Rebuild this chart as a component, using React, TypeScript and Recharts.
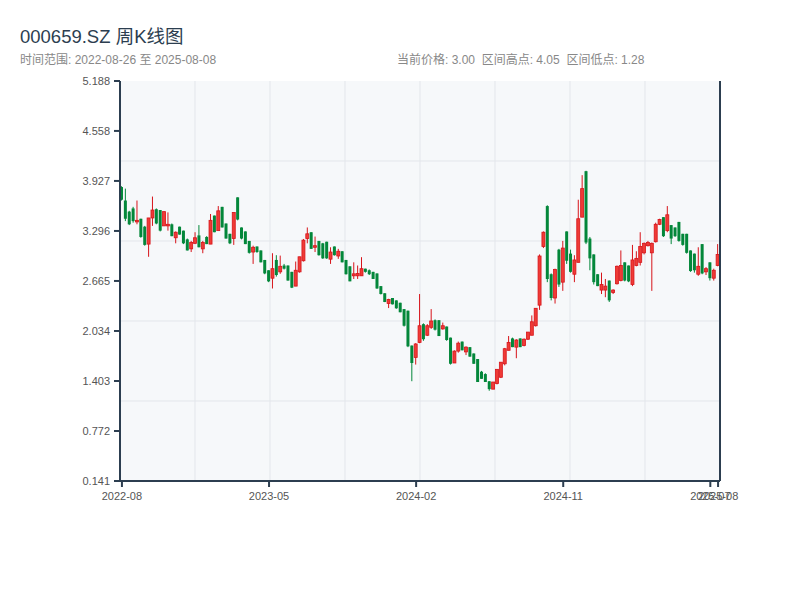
import { ComposedChart, Bar, XAxis, YAxis, CartesianGrid } from "recharts";

const dates = [
  "2022-08-26", "2022-09-02", "2022-09-09", "2022-09-16", "2022-09-23", "2022-09-30", "2022-10-07", "2022-10-14",
  "2022-10-21", "2022-10-28", "2022-11-04", "2022-11-11", "2022-11-18", "2022-11-25", "2022-12-02", "2022-12-09",
  "2022-12-16", "2022-12-23", "2022-12-30", "2023-01-06", "2023-01-13", "2023-01-20", "2023-01-27", "2023-02-03",
  "2023-02-10", "2023-02-17", "2023-02-24", "2023-03-03", "2023-03-10", "2023-03-17", "2023-03-24", "2023-03-31",
  "2023-04-07", "2023-04-14", "2023-04-21", "2023-04-28", "2023-05-05", "2023-05-12", "2023-05-19", "2023-05-26",
  "2023-06-02", "2023-06-09", "2023-06-16", "2023-06-23", "2023-06-30", "2023-07-07", "2023-07-14", "2023-07-21",
  "2023-07-28", "2023-08-04", "2023-08-11", "2023-08-18", "2023-08-25", "2023-09-01", "2023-09-08", "2023-09-15",
  "2023-09-22", "2023-09-29", "2023-10-06", "2023-10-13", "2023-10-20", "2023-10-27", "2023-11-03", "2023-11-10",
  "2023-11-17", "2023-11-24", "2023-12-01", "2023-12-08", "2023-12-15", "2023-12-22", "2023-12-29", "2024-01-05",
  "2024-01-12", "2024-01-19", "2024-01-26", "2024-02-02", "2024-02-09", "2024-02-16", "2024-02-23", "2024-03-01",
  "2024-03-08", "2024-03-15", "2024-03-22", "2024-03-29", "2024-04-05", "2024-04-12", "2024-04-19", "2024-04-26",
  "2024-05-03", "2024-05-10", "2024-05-17", "2024-05-24", "2024-05-31", "2024-06-07", "2024-06-14", "2024-06-21",
  "2024-06-28", "2024-07-05", "2024-07-12", "2024-07-19", "2024-07-26", "2024-08-02", "2024-08-09", "2024-08-16",
  "2024-08-23", "2024-08-30", "2024-09-06", "2024-09-13", "2024-09-20", "2024-09-27", "2024-10-04", "2024-10-11",
  "2024-10-18", "2024-10-25", "2024-11-01", "2024-11-08", "2024-11-15", "2024-11-22", "2024-11-29", "2024-12-06",
  "2024-12-13", "2024-12-20", "2024-12-27", "2025-01-03", "2025-01-10", "2025-01-17", "2025-01-24", "2025-01-31",
  "2025-02-07", "2025-02-14", "2025-02-21", "2025-02-28", "2025-03-07", "2025-03-14", "2025-03-21", "2025-03-28",
  "2025-04-04", "2025-04-11", "2025-04-18", "2025-04-25", "2025-05-02", "2025-05-09", "2025-05-16", "2025-05-23",
  "2025-05-30", "2025-06-06", "2025-06-13", "2025-06-20", "2025-06-27", "2025-07-04", "2025-07-11", "2025-07-18",
  "2025-07-25", "2025-08-01", "2025-08-08",
];

const opens = [
  3.85, 3.68, 3.54, 3.58, 3.41, 3.45, 3.35, 3.13, 3.46, 3.57, 3.56, 3.36, 3.36, 3.38, 3.21, 3.35,
  3.30, 3.19, 3.07, 3.14, 3.24, 3.07, 3.22, 3.13, 3.49, 3.30, 3.60, 3.39, 3.26, 3.20, 3.72, 3.34,
  3.29, 3.17, 3.03, 3.10, 3.05, 2.93, 2.80, 2.70, 2.93, 2.78, 2.86, 2.86, 2.78, 2.60, 2.78, 2.92,
  3.20, 3.28, 3.09, 3.17, 3.14, 3.16, 2.94, 3.10, 2.98, 3.04, 2.93, 2.85, 2.73, 2.73, 2.73, 2.82,
  2.80, 2.78, 2.76, 2.60, 2.51, 2.38, 2.45, 2.42, 2.39, 2.31, 2.29, 1.85, 1.70, 1.89, 2.12, 1.98,
  2.08, 2.17, 2.17, 2.06, 2.09, 1.95, 1.63, 1.78, 1.90, 1.77, 1.83, 1.75, 1.68, 1.52, 1.49, 1.40,
  1.30, 1.37, 1.45, 1.62, 1.79, 1.94, 1.83, 1.94, 1.85, 1.93, 1.98, 2.10, 2.36, 3.10, 3.61, 2.75,
  2.45, 3.06, 2.65, 3.29, 3.01, 2.75, 2.90, 3.47, 4.05, 3.20, 3.00, 2.75, 2.55, 2.55, 2.67, 2.52,
  2.63, 2.67, 2.90, 2.86, 2.62, 2.86, 2.90, 3.02, 3.11, 3.02, 3.16, 3.38, 3.47, 3.30, 3.37, 3.34,
  3.41, 3.26, 3.26, 3.05, 3.01, 2.75, 3.13, 2.78, 2.90, 2.70, 2.86,
];

const highs = [
  3.86, 3.83, 3.55, 3.60, 3.68, 3.45, 3.36, 3.46, 3.73, 3.58, 3.56, 3.54, 3.53, 3.39, 3.29, 3.35,
  3.30, 3.20, 3.17, 3.28, 3.37, 3.17, 3.23, 3.51, 3.49, 3.61, 3.60, 3.39, 3.26, 3.53, 3.72, 3.34,
  3.29, 3.17, 3.11, 3.10, 3.05, 2.93, 2.80, 3.015, 2.99, 2.985, 2.88, 2.86, 2.78, 2.91, 2.97, 3.195,
  3.34, 3.28, 3.225, 3.17, 3.145, 3.16, 3.09, 3.10, 3.07, 3.04, 2.93, 2.85, 2.90, 2.86, 2.965, 2.82,
  2.81, 2.78, 2.76, 2.60, 2.51, 2.44, 2.45, 2.42, 2.39, 2.31, 2.29, 1.85, 1.88, 2.50, 2.13, 2.12,
  2.31, 2.18, 2.17, 2.14, 2.09, 1.95, 1.79, 1.90, 1.90, 1.84, 1.83, 1.75, 1.68, 1.53, 1.50, 1.40,
  1.39, 1.55, 1.64, 1.82, 1.97, 1.95, 1.93, 1.94, 1.94, 2.02, 2.23, 2.32, 3.00, 3.29, 3.62, 2.76,
  2.82, 3.07, 3.17, 3.29, 3.06, 2.99, 3.69, 4.00, 4.055, 3.22, 3.00, 2.75, 2.77, 2.69, 2.67, 2.56,
  2.86, 3.05, 2.90, 2.86, 3.12, 3.04, 3.28, 3.15, 3.17, 3.15, 3.40, 3.45, 3.47, 3.61, 3.37, 3.34,
  3.41, 3.26, 3.26, 3.05, 3.01, 3.09, 3.13, 2.84, 2.90, 2.82, 3.13,
];

const lows = [
  3.68, 3.42, 3.37, 3.40, 3.38, 3.21, 3.11, 2.97, 3.36, 3.38, 3.29, 3.36, 3.30, 3.23, 3.14, 3.25,
  3.13, 3.05, 3.03, 3.13, 3.09, 3.015, 3.13, 3.13, 3.28, 3.30, 3.34, 3.20, 3.13, 3.12, 3.43, 3.19,
  3.13, 3.01, 2.88, 3.02, 2.90, 2.75, 2.65, 2.57, 2.72, 2.755, 2.81, 2.67, 2.575, 2.60, 2.77, 2.91,
  3.14, 3.07, 3.03, 2.985, 2.944, 2.944, 2.88, 2.985, 2.944, 2.90, 2.746, 2.662, 2.69, 2.69, 2.73, 2.77,
  2.74, 2.69, 2.566, 2.495, 2.398, 2.323, 2.369, 2.314, 2.27, 2.09, 1.83, 1.40, 1.61, 1.88, 1.91, 1.97,
  2.06, 2.04, 1.97, 2.05, 1.91, 1.61, 1.63, 1.76, 1.79, 1.73, 1.71, 1.62, 1.39, 1.43, 1.39, 1.28,
  1.30, 1.36, 1.44, 1.60, 1.79, 1.83, 1.69, 1.83, 1.84, 1.92, 1.98, 2.09, 2.30, 3.08, 2.65, 2.42,
  2.38, 2.59, 2.54, 2.88, 2.77, 2.65, 2.90, 3.47, 3.13, 2.80, 2.62, 2.60, 2.50, 2.46, 2.40, 2.50,
  2.62, 2.66, 2.66, 2.65, 2.60, 2.85, 2.86, 3.00, 3.10, 2.54, 3.15, 3.37, 3.22, 3.28, 3.13, 3.22,
  3.16, 3.11, 3.01, 2.78, 2.77, 2.73, 2.75, 2.74, 2.67, 2.67, 2.85,
];

const closes = [
  3.69, 3.45, 3.38, 3.42, 3.43, 3.22, 3.12, 3.46, 3.56, 3.39, 3.30, 3.54, 3.38, 3.23, 3.28, 3.25,
  3.14, 3.05, 3.15, 3.21, 3.09, 3.15, 3.13, 3.43, 3.28, 3.55, 3.34, 3.20, 3.14, 3.53, 3.44, 3.20,
  3.13, 3.02, 3.09, 3.03, 2.90, 2.76, 2.66, 2.82, 2.74, 2.85, 2.82, 2.67, 2.58, 2.80, 2.97, 3.18,
  3.26, 3.07, 3.11, 2.99, 2.95, 2.95, 3.03, 2.99, 3.04, 2.90, 2.75, 2.66, 2.755, 2.76, 2.82, 2.78,
  2.75, 2.69, 2.57, 2.50, 2.40, 2.43, 2.37, 2.32, 2.27, 2.10, 1.84, 1.63, 1.87, 2.10, 1.93, 2.10,
  2.16, 2.05, 1.97, 2.10, 1.92, 1.62, 1.78, 1.88, 1.79, 1.83, 1.71, 1.62, 1.39, 1.43, 1.39, 1.30,
  1.39, 1.55, 1.64, 1.81, 1.89, 1.83, 1.92, 1.83, 1.93, 2.02, 2.15, 2.32, 2.98, 3.28, 2.69, 2.45,
  2.81, 2.62, 3.08, 2.92, 2.78, 2.93, 3.45, 3.83, 3.15, 2.95, 2.65, 2.60, 2.62, 2.60, 2.42, 2.55,
  2.85, 2.86, 2.67, 2.66, 2.93, 2.95, 3.10, 3.14, 3.15, 3.14, 3.38, 3.44, 3.23, 3.50, 3.20, 3.23,
  3.17, 3.12, 3.02, 2.79, 2.80, 2.85, 2.76, 2.82, 2.70, 2.80, 3.00,
];

const yTicks = [0.141, 0.772, 1.403, 2.034, 2.665, 3.296, 3.927, 4.558, 5.188];
const xTickIndex = [0, 38, 76, 114, 152, 154];

const rows = dates.map((d, i) => ({
  date: d,
  open: opens[i],
  high: highs[i],
  low: lows[i],
  close: closes[i],
  range: [lows[i], highs[i]],
}));

const UP = "#d7141a";
const UP_FILL = "#ef3b36";
const DOWN = "#03873a";
const AXIS = "#2c3e50";
const FONT = "'Liberation Sans', 'Noto Sans CJK SC', sans-serif";

const Candle = (props: any) => {
  const { x, y, width, height, payload } = props;
  if (x == null || y == null) return null;
  const { open, close, high, low } = payload;
  const k = high - low > 0 ? height / (high - low) : 0;
  const yo = y + (high - open) * k;
  const yc = y + (high - close) * k;
  const up = close >= open;
  const cx = x + width / 2;
  const top = Math.min(yo, yc);
  const h = Math.max(Math.abs(yo - yc), 1);
  const col = up ? UP : DOWN;
  return (
    <g>
      <line x1={cx} x2={cx} y1={y} y2={y + height} stroke={col} strokeWidth={1} />
      <rect x={x} y={top} width={width} height={h} fill={up ? UP_FILL : DOWN} stroke={col} strokeWidth={up ? 0.8 : 0} />
    </g>
  );
};

const hGrid = ({ offset }: any) => [1, 2, 3, 4].map((i) => offset.top + (offset.height * i) / 5);
const vGrid = ({ offset }: any) => [1, 2, 3, 4, 5, 6, 7].map((i) => offset.left + (offset.width * i) / 8);

export default function App() {
  return (
    <div style={{ position: "absolute", left: 0, top: 0, width: 800, height: 600, background: "#fff", fontFamily: FONT }}>
      <div style={{ position: "absolute", left: 20, top: 22, fontSize: 18.5, color: "#2c3e50" }}>000659.SZ 周K线图</div>
      <div style={{ position: "absolute", left: 20, top: 50, fontSize: 12, color: "#888" }}>
        时间范围: 2022-08-26 至 2025-08-08
      </div>
      <div style={{ position: "absolute", left: 397, top: 50, fontSize: 12, color: "#888", whiteSpace: "pre" }}>
        当前价格: 3.00  区间高点: 4.05  区间低点: 1.28
      </div>
      <ComposedChart
        width={800}
        height={600}
        data={rows}
        margin={{ top: 81, right: 0, bottom: 89, left: 0 }}
        style={{ position: "absolute", left: 0, top: 0 }}
      >
        <CartesianGrid
          fill="#f6f8fa"
          stroke="#e3e6eb"
          horizontalCoordinatesGenerator={hGrid}
          verticalCoordinatesGenerator={vGrid}
        />
        <XAxis
          dataKey="date"
          type="category"
          interval={0}
          ticks={xTickIndex.map((i) => dates[i])}
          tickFormatter={(v: string) => v.slice(0, 7)}
          height={30}
          stroke={AXIS}
          strokeWidth={2}
          tickSize={6}
          tickMargin={5}
          tick={{ fill: "#555", fontSize: 11, fontFamily: FONT }}
        />
        <YAxis
          yAxisId="l"
          type="number"
          domain={[yTicks[0], yTicks[yTicks.length - 1]]}
          ticks={yTicks}
          allowDataOverflow
          interval={0}
          width={120}
          stroke={AXIS}
          strokeWidth={2}
          tickSize={6}
          tickMargin={4}
          tickFormatter={(v: number) => v.toFixed(3)}
          tick={{ fill: "#555", fontSize: 11, fontFamily: FONT }}
        />
        <YAxis
          yAxisId="r"
          orientation="right"
          type="number"
          domain={[yTicks[0], yTicks[yTicks.length - 1]]}
          ticks={yTicks}
          allowDataOverflow
          interval={0}
          width={80}
          stroke={AXIS}
          strokeWidth={2}
          tickSize={6}
          tick={false}
        />
        <Bar yAxisId="l" dataKey="range" barSize={3} shape={<Candle />} isAnimationActive={false} />
      </ComposedChart>
    </div>
  );
}
